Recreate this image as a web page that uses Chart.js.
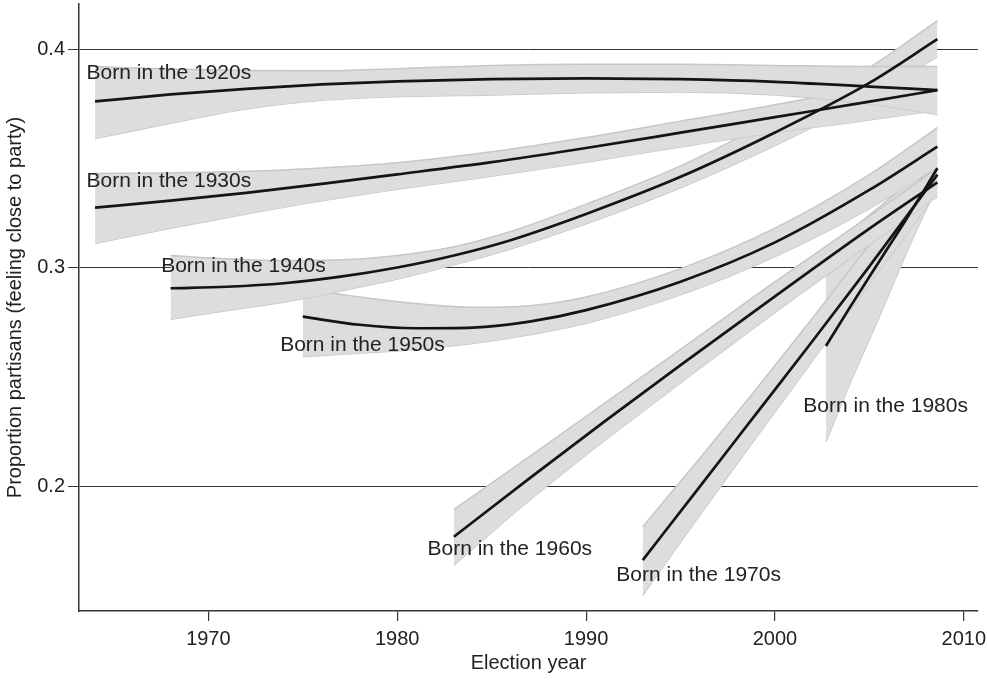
<!DOCTYPE html>
<html>
<head>
<meta charset="utf-8">
<script src="https://cdn.jsdelivr.net/npm/chart.js@4.4.0/dist/chart.umd.min.js"></script>
<style>
  html, body { margin: 0; background: #fff; }
  canvas { display: block; }
</style>
</head>
<body>
<canvas id="chart" width="987" height="682"></canvas>
<script>
// Tick values
const xTicks = [1970, 1980, 1990, 2000, 2010];
const yTicks = [0.2, 0.3, 0.4];

// Born in the 1920s
const years20 = [1964, 1968, 1972, 1976, 1980, 1985, 1990, 1995, 2000, 2005, 2008.6];
const line20  = [0.376, 0.3792, 0.3818, 0.3838, 0.3852, 0.3862, 0.3866, 0.3862, 0.385, 0.3828, 0.3812];
const upper20 = [0.392, 0.3908, 0.3902, 0.390, 0.391, 0.3925, 0.393, 0.393, 0.3925, 0.392, 0.392];
const lower20 = [0.359, 0.366, 0.3725, 0.3765, 0.3782, 0.379, 0.380, 0.3803, 0.379, 0.375, 0.370];

// Born in the 1930s
const years30 = [1964, 1968, 1972, 1976, 1980, 1985, 1990, 1995, 2000, 2005, 2008.6];
const line30  = [0.3274, 0.3306, 0.3342, 0.3383, 0.3426, 0.3482, 0.3547, 0.3617, 0.3688, 0.3759, 0.3812];
const upper30 = [0.343, 0.3433, 0.344, 0.3456, 0.348, 0.353, 0.3595, 0.367, 0.3745, 0.383, 0.391];
const lower30 = [0.311, 0.318, 0.3245, 0.3305, 0.3358, 0.3418, 0.3482, 0.3552, 0.3618, 0.3675, 0.372];

// Born in the 1940s
const years40 = [1968, 1971, 1974, 1977, 1980, 1983, 1986, 1990, 1995, 2000, 2005, 2008.6];
const line40  = [0.2905, 0.2912, 0.2928, 0.2958, 0.300, 0.3055, 0.3125, 0.3245, 0.3415, 0.3618, 0.3845, 0.4045];
const upper40 = [0.3055, 0.304, 0.3032, 0.3035, 0.3055, 0.3095, 0.3165, 0.329, 0.3465, 0.368, 0.3915, 0.413];
const lower40 = [0.2763, 0.2803, 0.2842, 0.2893, 0.2947, 0.3012, 0.3085, 0.320, 0.3365, 0.3558, 0.3775, 0.3965];

// Born in the 1950s
const years50 = [1975, 1978, 1981, 1984, 1987, 1990, 1995, 2000, 2005, 2008.6];
const line50  = [0.2775, 0.2738, 0.2722, 0.2725, 0.2752, 0.2805, 0.2935, 0.3115, 0.3355, 0.3553];
const upper50 = [0.2905, 0.2865, 0.2835, 0.2818, 0.2825, 0.2865, 0.2995, 0.318, 0.3425, 0.364];
const lower50 = [0.2592, 0.2608, 0.2625, 0.2652, 0.2692, 0.2745, 0.2875, 0.305, 0.327, 0.346];

// Born in the 1960s
const years60 = [1983, 1987, 1991, 1995, 2000, 2005, 2008.6];
const line60  = [0.1768, 0.2035, 0.2297, 0.2553, 0.2868, 0.3178, 0.339];
const upper60 = [0.1893, 0.2135, 0.238, 0.2625, 0.2935, 0.3235, 0.3455];
const lower60 = [0.1638, 0.1935, 0.221, 0.2472, 0.2795, 0.3105, 0.3325];

// Born in the 1970s
const years70 = [1993, 1996, 1999, 2002, 2005, 2008.6];
const line70  = [0.1661, 0.1995, 0.233, 0.2665, 0.3005, 0.3425];
const upper70 = [0.1814, 0.2125, 0.2443, 0.277, 0.3105, 0.350];
const lower70 = [0.150, 0.1865, 0.2222, 0.2575, 0.2925, 0.3345];

// Born in the 1980s
const years80 = [2002.7, 2004, 2005.5, 2007, 2008.6];
const line80  = [0.2641, 0.2822, 0.3025, 0.3228, 0.3454];
const upper80 = [0.3072, 0.317, 0.3275, 0.3385, 0.3515];
const lower80 = [0.2203, 0.2475, 0.277, 0.3075, 0.3375];

const cohortNames = ["1920s", "1930s", "1940s", "1950s", "1960s", "1970s", "1980s"];
const cohorts = [
  [years20, line20, upper20, lower20],
  [years30, line30, upper30, lower30],
  [years40, line40, upper40, lower40],
  [years50, line50, upper50, lower50],
  [years60, line60, upper60, lower60],
  [years70, line70, upper70, lower70],
  [years80, line80, upper80, lower80],
];

// Where each "Born in the ..." label sits (year, proportion), left-aligned
const labelAnchors = [
  [1963.55, 0.389], [1963.55, 0.3396], [1967.5, 0.3007], [1973.8, 0.2643],
  [1981.6, 0.1709], [1991.6, 0.159], [2001.5, 0.2366],
];

const FONT = '"Liberation Sans", Arial, sans-serif';
const toPoints = (xs, ys) => xs.map((x, i) => ({ x: x, y: ys[i] }));

const datasets = [];
cohorts.forEach(([yrs, line, upper, lower], i) => {
  datasets.push({
    label: "Born in the " + cohortNames[i],
    data: toPoints(yrs, line),
    borderColor: "#141414",
    borderWidth: 2.7,
    pointRadius: 0,
    fill: false,
    cubicInterpolationMode: "monotone",
    order: 0,
  });
  datasets.push({
    label: cohortNames[i] + " upper",
    data: toPoints(yrs, upper),
    borderColor: "#c6c7c9",
    borderWidth: 1.5,
    backgroundColor: "#dcdddf",
    pointRadius: 0,
    fill: "+1",
    cubicInterpolationMode: "monotone",
    order: 1,
  });
  datasets.push({
    label: cohortNames[i] + " lower",
    data: toPoints(yrs, lower),
    borderColor: "#c6c7c9",
    borderWidth: 1.5,
    pointRadius: 0,
    fill: false,
    cubicInterpolationMode: "monotone",
    order: 1,
  });
});

// Draw the cohort labels on top of everything
const cohortLabels = {
  id: "cohortLabels",
  afterDatasetsDraw(chart) {
    const { ctx, scales } = chart;
    ctx.save();
    ctx.font = "21px " + FONT;
    ctx.fillStyle = "#222";
    ctx.textAlign = "left";
    ctx.textBaseline = "middle";
    labelAnchors.forEach(([yr, val], i) => {
      ctx.fillText("Born in the " + cohortNames[i],
        scales.x.getPixelForValue(yr), scales.y.getPixelForValue(val));
    });
    ctx.restore();
  },
};

const ctx = document.getElementById("chart").getContext("2d");
new Chart(ctx, {
  type: "line",
  data: { datasets: datasets },
  plugins: [cohortLabels],
  options: {
    responsive: false,
    animation: false,
    layout: { padding: { top: 4, right: 9, left: 0, bottom: 0 } },
    plugins: {
      legend: { display: false },
      tooltip: { enabled: false },
    },
    scales: {
      x: {
        type: "linear",
        min: 1963.15,
        max: 2010.75,
        afterBuildTicks: (s) => { s.ticks = xTicks.map((v) => ({ value: v })); },
        afterFit: (s) => { s.height = 71; s.paddingLeft = 0; s.paddingRight = 0; },
        ticks: {
          callback: (v) => String(v),
          color: "#222",
          font: { family: FONT, size: 20 },
          padding: 6,
          maxRotation: 0,
          autoSkip: false,
        },
        grid: { drawOnChartArea: false, drawTicks: true, tickLength: 10, color: "#333", lineWidth: 1.2 },
        border: { display: true, color: "#333", width: 1.5 },
        title: {
          display: true,
          text: "Election year",
          color: "#222",
          font: { family: FONT, size: 20 },
          padding: { top: 0, bottom: 7 },
        },
      },
      y: {
        min: 0.1428,
        max: 0.4206,
        afterBuildTicks: (s) => { s.ticks = yTicks.map((v) => ({ value: v })); },
        afterFit: (s) => { s.width = 79; s.paddingTop = 0; s.paddingBottom = 0; },
        ticks: {
          callback: (v) => v.toFixed(1),
          color: "#222",
          font: { family: FONT, size: 20 },
          padding: 3,
        },
        grid: { drawOnChartArea: true, drawTicks: true, tickLength: 11, color: "#333", lineWidth: 1 },
        border: { display: true, color: "#333", width: 1.5 },
        title: {
          display: true,
          text: "Proportion partisans (feeling close to party)",
          color: "#222",
          font: { family: FONT, size: 20 },
          padding: { top: 3, bottom: 0 },
        },
      },
    },
  },
});
</script>
</body>
</html>
